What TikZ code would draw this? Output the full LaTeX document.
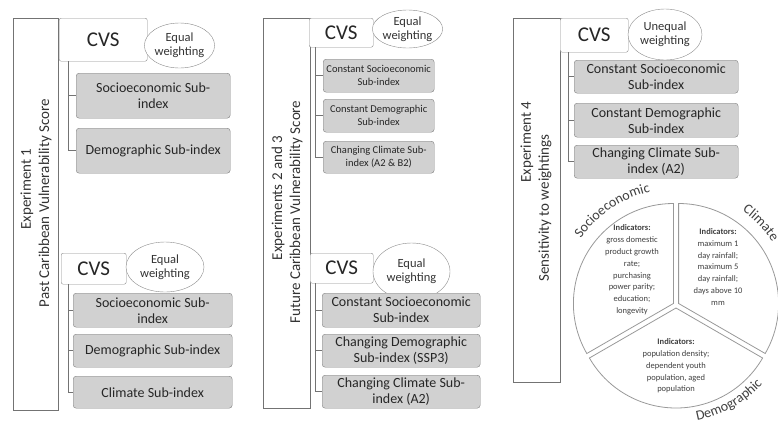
\documentclass[tikz,border=0pt]{standalone}
\usepackage{fontspec}
\setmainfont{Carlito}
\usetikzlibrary{shapes.geometric,decorations.text}

\tikzset{
  panel/.style={draw=black!55, line width=0.8pt},
  explabel/.style={rotate=90, inner sep=0pt, text=black!80, font=\fontsize{15}{18}\selectfont},
  cvs/.style={draw=black!45, fill=white, rounded corners=2pt, anchor=north west, inner sep=0pt, text=black!85, font=\fontsize{21}{24}\selectfont},
  weight/.style={ellipse, draw=black!45, fill=white, inner sep=0pt, align=center, text=black!80, font=\fontsize{12.5}{14}\selectfont},
  subidx/.style={draw=black!50, fill=black!18, rounded corners=3pt, anchor=north west, inner sep=1pt, align=center, text=black!85, font=\fontsize{14}{16}\selectfont},
  tree/.style={draw=black!55, line width=0.7pt},
  slice/.style={draw=black!40, fill=white, line width=0.8pt},
  indic/.style={align=center, text=black!75, font=\fontsize{8.5}{11.8}\selectfont},
}

\begin{document}
\begin{tikzpicture}[x=1pt,y=-1pt]
\useasboundingbox (0,0) rectangle (778,429);

% Experiment 1
\draw [panel] (13,18) rectangle (58,410);
\node [explabel] (e1a) at (27,189) {Experiment 1};
\node [explabel] (e1b) at (45,203) {Past Caribbean Vulnerability Score};

\node [cvs, minimum width=88pt, minimum height=43pt] (cvsA) at (59,18) {CVS};
\node [weight, minimum width=65pt, minimum height=45pt] (wA) at (179.5,45.5) {Equal\\weighting};
\node [subidx, minimum width=154pt, minimum height=45pt] (sA1) at (76,73) {Socioeconomic Sub-\\index};
\node [subidx, minimum width=154pt, minimum height=45pt] (sA2) at (76,128) {Demographic Sub-index};
\coordinate (tA) at (68,61);
\draw [tree] (tA) |- (sA1.west);
\draw [tree] (tA) |- (sA2.west);

\node [cvs, minimum width=65pt, minimum height=31pt] (cvsB) at (61,253) {CVS};
\node [weight, minimum width=78pt, minimum height=50pt] (wB) at (165,267) {Equal\\weighting};
\node [subidx, minimum width=159pt, minimum height=34pt] (sB1) at (73,293) {Socioeconomic Sub-\\index};
\node [subidx, minimum width=159pt, minimum height=33pt] (sB2) at (73,334) {Demographic Sub-index};
\node [subidx, minimum width=159pt, minimum height=32pt] (sB3) at (73,376) {Climate Sub-index};
\coordinate (tB) at (68,284);
\draw [tree] (tB) |- (sB1.west);
\draw [tree] (tB) |- (sB2.west);
\draw [tree] (tB) |- (sB3.west);

% Experiments 2 and 3
\draw [panel] (263,18) rectangle (310,408);
\node [explabel] (e2a) at (278,198) {Experiments 2 and 3};
\node [explabel] (e2b) at (296,212) {Future Caribbean Vulnerability Score};

\node [cvs, minimum width=64pt, minimum height=29pt] (cvsC) at (309,18) {CVS};
\node [weight, minimum width=69pt, minimum height=38pt] (wC) at (407.5,29) {Equal\\weighting};
\node [subidx, minimum width=111pt, minimum height=33pt, font=\fontsize{10.5}{13}\selectfont] (sC1) at (323,59) {Constant Socioeconomic\\Sub-index};
\node [subidx, minimum width=111pt, minimum height=33pt, font=\fontsize{10.5}{13}\selectfont] (sC2) at (323,99) {Constant Demographic\\Sub-index};
\node [subidx, minimum width=111pt, minimum height=32pt, font=\fontsize{10.5}{13}\selectfont] (sC3) at (323,141) {Changing Climate Sub-\\index (A2 \& B2)};
\coordinate (tC) at (315,47);
\draw [tree] (tC) |- (sC1.west);
\draw [tree] (tC) |- (sC2.west);
\draw [tree] (tC) |- (sC3.west);

\node [cvs, minimum width=63pt, minimum height=30pt] (cvsD) at (310,253) {CVS};
\node [weight, minimum width=77pt, minimum height=57pt] (wD) at (411.5,271.5) {Equal\\weighting};
\node [subidx, minimum width=158pt, minimum height=34pt] (sD1) at (322,293) {Constant Socioeconomic\\Sub-index};
\node [subidx, minimum width=158pt, minimum height=33pt] (sD2) at (322,334) {Changing Demographic\\Sub-index (SSP3)};
\node [subidx, minimum width=158pt, minimum height=33pt] (sD3) at (322,375) {Changing Climate Sub-\\index (A2)};
\coordinate (tD) at (315,283);
\draw [tree] (tD) |- (sD1.west);
\draw [tree] (tD) |- (sD2.west);
\draw [tree] (tD) |- (sD3.west);

% Experiment 4
\draw [panel] (513,18) rectangle (560,382);
\node [explabel] (e4a) at (527,142) {Experiment 4};
\node [explabel] (e4b) at (545,208) {Sensitivity to weightings};

\node [cvs, minimum width=68pt, minimum height=34pt] (cvsE) at (560,18) {CVS};
\node [weight, minimum width=74pt, minimum height=51pt] (wE) at (665,34.5) {Unequal\\weighting};
\node [subidx, minimum width=164pt, minimum height=33pt] (sE1) at (574,60) {Constant Socioeconomic\\Sub-index};
\node [subidx, minimum width=164pt, minimum height=34pt] (sE2) at (574,103) {Constant Demographic\\Sub-index};
\node [subidx, minimum width=164pt, minimum height=33pt] (sE3) at (574,145) {Changing Climate Sub-\\index (A2)};
\coordinate (tE) at (568,52);
\draw [tree] (tE) |- (sE1.west);
\draw [tree] (tE) |- (sE2.west);
\draw [tree] (tE) |- (sE3.west);

% pie of weightings
\begin{scope}[shift={(676,305)}, y=1pt]
  \draw [slice] (30:3) -- +(-30:100) arc [start angle=-30, end angle=90, radius=100] -- cycle;
  \draw [slice] (150:3) -- +(90:100) arc [start angle=90, end angle=210, radius=100] -- cycle;
  \draw [slice] (270:3) -- +(210:100) arc [start angle=210, end angle=330, radius=100] -- cycle;

  \node [indic] (isoc) at (-44,35) {\textbf{Indicators:}\\gross domestic\\product growth\\rate;\\purchasing\\power parity;\\education;\\longevity};
  \node [indic] (iclim) at (42,38) {\textbf{Indicators:}\\maximum 1\\day rainfall;\\maximum 5\\day rainfall;\\days above 10\\mm};
  \node [indic] (idem) at (0,-61) {\textbf{Indicators:}\\population density;\\dependent youth\\population, aged\\population};

  \path [decorate, decoration={text along path, text align=center, text color=black!75,
    text={|\fontsize{14}{16}\selectfont|Socioeconomic}}] (165:116) arc [start angle=165, end angle=83, radius=116];
  \path [decorate, decoration={text along path, text align=center, text color=black!75,
    text={|\fontsize{14}{16}\selectfont|Climate}}] (74:115) arc [start angle=74, end angle=14, radius=115];
  \path [decorate, decoration={text along path, text align=center, text color=black!75,
    text={|\fontsize{14}{16}\selectfont|Demographic}}] (-100:117) arc [start angle=-100, end angle=-22, radius=117];
\end{scope}
\end{tikzpicture}
\end{document}
